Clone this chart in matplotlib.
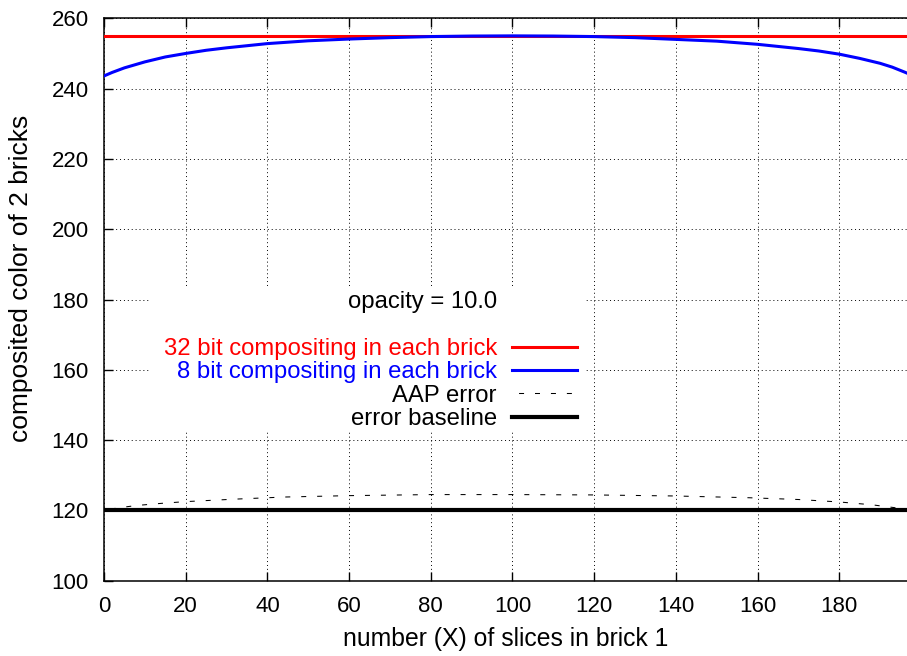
import matplotlib
matplotlib.use("Agg")
import matplotlib.pyplot as plt
from matplotlib.patches import Rectangle

plt.rcParams['font.family'] = ['Liberation Sans', 'DejaVu Sans']

# ---- data ----
x_32bit = [0, 197]
y_32bit = [255.0, 255.0]

x_8bit = [0, 2, 5, 10, 15, 20, 25, 30, 40, 50, 60, 70, 80, 90, 100, 110, 120,
          130, 140, 150, 160, 170, 175, 180, 185, 190, 193, 196, 197]
y_8bit = [243.6, 244.6, 245.9, 247.6, 249.0, 250.0, 250.9, 251.6, 252.8, 253.6,
          254.1, 254.5, 254.8, 254.95, 255.0, 254.95, 254.8, 254.5, 254.0, 253.5,
          252.6, 251.4, 250.7, 249.8, 248.6, 247.2, 246.1, 244.7, 244.2]

x_aap = [0, 4, 8, 14, 20, 32, 44, 60, 80, 100, 120, 140, 158, 170, 180, 188, 192, 197]
y_aap = [120.1, 120.8, 121.4, 122.0, 122.5, 123.2, 123.8, 124.2, 124.5, 124.5,
         124.4, 124.1, 123.6, 123.1, 122.4, 121.6, 121.0, 120.3]

x_base = [0, 197]
y_base = [120.0, 120.0]

labels = ["32 bit compositing in each brick", "8 bit compositing in each brick",
          "AAP error", "error baseline"]
label_colors = ["red", "blue", "black", "black"]
title_text = "opacity = 10.0"
xticks = list(range(0, 181, 20))
yticks = list(range(100, 261, 20))

FS_TICK = 16
FS_KEY = 17.2

fig = plt.figure(figsize=(9.07, 6.56), dpi=100)
ax = fig.add_axes([104/907, 75.3/656, 1 - 104/907, (580.7 - 18.3)/656])

l1, = ax.plot(x_32bit, y_32bit, color='red', lw=2.2, zorder=3)
l2, = ax.plot(x_8bit, y_8bit, color='blue', lw=2.2, zorder=3)
l3, = ax.plot(x_aap, y_aap, color='black', lw=0.75, linestyle=(9, (4.8, 10.5)), zorder=3)
l4, = ax.plot(x_base, y_base, color='black', lw=3.0, zorder=3)

ax.set_xlim(0, 196.6)
ax.set_ylim(100, 260)
ax.set_xticks(xticks)
ax.set_yticks(yticks)
ax.grid(True, color='black', lw=0.7, linestyle=(0, (1, 3)))
ax.set_axisbelow(True)

ax.tick_params(direction='in', length=6.5, width=1.0, labelsize=FS_TICK, pad=11,
               top=True, right=False, colors='black')
for s in ['left', 'bottom', 'top']:
    ax.spines[s].set_linewidth(1.1)
ax.spines['right'].set_visible(False)

ax.set_xlabel("number (X) of slices in brick 1", fontsize=17.8, labelpad=7)
ax.set_ylabel("composited color of 2 bricks", fontsize=19)
ax.yaxis.set_label_coords(-0.088, 0.537)

# opaque key box (hides grid behind the key)
ax.add_patch(Rectangle((150/907, 1 - 432/656), 435/907, 145/656,
                       transform=fig.transFigure, facecolor='white',
                       edgecolor='none', zorder=2))

fig.text(497/907, 1 - 301.7/656, title_text, ha='right', va='center',
         fontsize=FS_KEY, zorder=6)

leg = ax.legend([l1, l2, l3, l4], labels, loc='upper right',
                bbox_to_anchor=(577/907, 1 - 338/656), bbox_transform=fig.transFigure,
                frameon=False, markerfirst=False, fontsize=FS_KEY,
                handlelength=2.72, handletextpad=0.63, labelspacing=0.055,
                borderpad=0, borderaxespad=0, labelcolor=label_colors)
leg.set_zorder(6)

fig.savefig("out.png", dpi=100)
